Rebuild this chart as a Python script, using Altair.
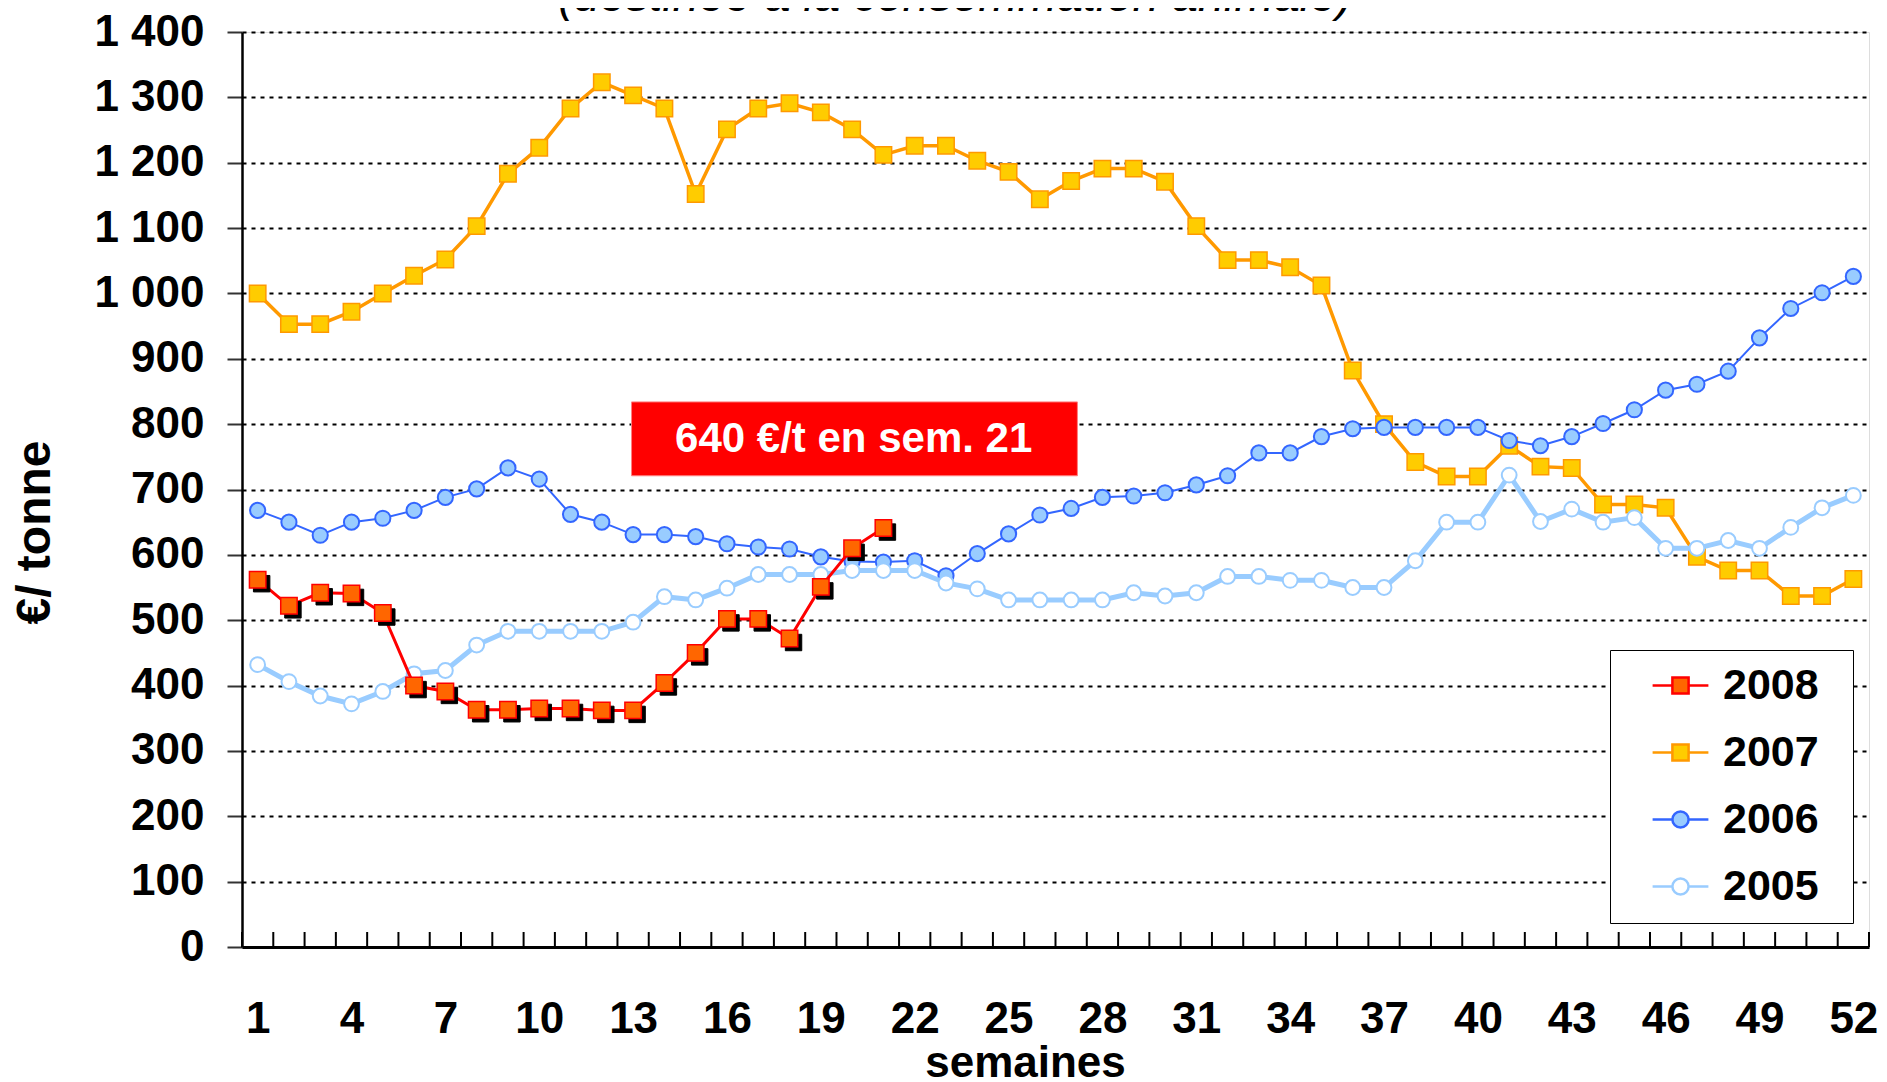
import altair as alt
import pandas as pd

FONT = "Liberation Sans"

# ---------------- data ----------------
weeks = list(range(1, 53))
years = ["2008", "2007", "2006", "2005"]

price_2008 = [562, 522, 542, 541, 511, 400, 391, 363, 363, 365, 365, 362, 362, 404,
              450, 502, 502, 472, 551, 610, 641]
price_2007 = [1000, 953, 953, 972, 1000, 1027, 1052, 1103, 1183, 1223,
              1283, 1323, 1303, 1283, 1152, 1251, 1283, 1291, 1277, 1251,
              1212, 1226, 1226, 1203, 1186, 1144, 1172, 1191, 1191, 1171,
              1103, 1051, 1051, 1040, 1012, 882, 800, 742, 720, 720,
              767, 735, 733, 677, 677, 672, 597, 576, 576, 537,
              537, 563]
price_2006 = [668, 650, 630, 650, 656, 668, 688, 701, 733, 716,
              662, 650, 631, 631, 628, 617, 612, 609, 597, 590,
              589, 591, 568, 602, 632, 661, 671, 688, 690, 695,
              707, 721, 756, 756, 781, 793, 795, 795, 795, 795,
              775, 767, 781, 801, 822, 852, 861, 881, 932, 977,
              1001, 1026]
price_2005 = [432, 406, 384, 372, 391, 418, 423, 462, 483, 483,
              483, 483, 497, 536, 531, 549, 570, 570, 570, 576,
              576, 576, 557, 548, 531, 531, 531, 531, 542, 537,
              542, 567, 567, 561, 561, 550, 550, 591, 650, 650,
              722, 651, 670, 650, 657, 610, 610, 622, 610, 642,
              672, 691]

series_values = {"2008": price_2008, "2007": price_2007, "2006": price_2006, "2005": price_2005}

x_tick_labels = list(range(1, 53, 3))
y_ticks = list(range(0, 1401, 100))
week_bounds = [w - 0.5 for w in weeks] + [weeks[-1] + 0.5]

annotation_label = ["640 €/t en sem. 21"]
annotation_week = [20.05]
annotation_price = [778]
annotation_box_week = [12.95]
annotation_box_week2 = [27.2]
annotation_box_price = [721]
annotation_box_price2 = [834]

title_text = ["(destinée à la consommation animale)"]

# ---------------- styles ----------------
line_colors = {"2008": "#FF0000", "2007": "#FF9900", "2006": "#3366FF", "2005": "#99CCFF"}
marker_fills = {"2008": "#FF6600", "2007": "#FFCC00", "2006": "#99CCFF", "2005": "#FFFFFF"}
marker_shapes = {"2008": "square", "2007": "square", "2006": "circle", "2005": "circle"}
line_widths = {"2008": 3, "2007": 3.5, "2006": 2, "2005": 5}
marker_sizes = {"2008": 270, "2007": 270, "2006": 230, "2005": 220}
marker_stroke = {"2008": 1.5, "2007": 1.5, "2006": 2, "2005": 2}

sq_path = "M-3.1,0H-0.9M0.9,0H3.1M-0.9,-0.9H0.9V0.9H-0.9Z"
ci_path = "M-3.1,0H-0.9M0.9,0H3.1M0.9,0A0.9,0.9,0,1,1,-0.9,0A0.9,0.9,0,1,1,0.9,0Z"
legend_paths = [sq_path, sq_path, ci_path, ci_path]

# ---------------- tables ----------------
rows = []
for y in years:
    for w, v in zip(weeks, series_values[y]):
        rows.append({"year": y, "week": w, "price": v})
df = pd.DataFrame(rows)

ticks_df = pd.DataFrame({"week": week_bounds})
ann_df = pd.DataFrame({
    "week": annotation_week, "price": annotation_price, "label": annotation_label,
    "wk1": annotation_box_week, "wk2": annotation_box_week2,
    "p1": annotation_box_price, "p2": annotation_box_price2,
})
title_df = pd.DataFrame({"label": title_text})

W, H = 1627, 915

x_scale = alt.Scale(domain=[0.5, 52.5], nice=False, zero=False)
y_scale = alt.Scale(domain=[0, 1400], nice=False, zero=True)

x_axis = alt.Axis(
    values=x_tick_labels, title="semaines", format="d",
    ticks=False, tickSize=0, labelPadding=50,
    labelFont=FONT, labelFontSize=44, labelFontWeight="bold", labelColor="black",
    labelFlush=False, labelOverlap=False,
    domainColor="black", domainWidth=3, grid=False,
    titleFont=FONT, titleFontSize=44, titleFontWeight="bold", titleColor="black",
    titleX=783, titleY=129, titleBaseline="alphabetic", titleAlign="center",
)
y_axis = alt.Axis(
    values=y_ticks, title="€/ tonne",
    labelExpr="replace(format(datum.value, ','), ',', ' ')",
    tickSize=15, tickWidth=2, tickColor="#333333", labelPadding=23,
    labelFont=FONT, labelFontSize=44, labelFontWeight="bold", labelColor="black",
    labelFlush=False, labelOverlap=False,
    domainColor="black", domainWidth=2.5,
    grid=True, gridColor="black", gridDash=[4, 5], gridWidth=2,
    titleFont=FONT, titleFontSize=48, titleFontWeight="bold", titleColor="black",
    titleX=-207, titleY=500, titleAngle=270, titleBaseline="middle", titleAlign="center",
)


def X(field):
    return alt.X(field, type="quantitative", scale=x_scale, axis=x_axis)


def Y(field):
    return alt.Y(field, type="quantitative", scale=y_scale, axis=y_axis)


layers = []

# inner ticks on the week axis
layers.append(
    alt.Chart(ticks_df).mark_rule(color="black", strokeWidth=2).encode(
        x=X("week"), y=alt.value(H), y2=alt.value(H - 15)
    )
)

for yr in ["2007", "2006", "2005", "2008"]:
    base = alt.Chart(df).transform_filter(alt.datum.year == yr)
    layers.append(
        base.mark_line(color=line_colors[yr], strokeWidth=line_widths[yr]).encode(
            x=X("week"), y=Y("price")
        )
    )
    if yr == "2008":
        layers.append(
            base.mark_point(shape="square", filled=True, fill="black", stroke="black",
                            strokeWidth=1, size=marker_sizes[yr], opacity=1,
                            xOffset=4, yOffset=4).encode(x=X("week"), y=Y("price"))
        )
    layers.append(
        base.mark_point(shape=marker_shapes[yr], filled=True, fill=marker_fills[yr],
                        stroke=line_colors[yr], strokeWidth=marker_stroke[yr],
                        size=marker_sizes[yr], opacity=1).encode(x=X("week"), y=Y("price"))
    )

# annotation box
layers.append(
    alt.Chart(ann_df).mark_rect(color="#FF0000", stroke="#FF8080", strokeWidth=1).encode(
        x=X("wk1"), x2="wk2", y=Y("p1"), y2="p2"
    )
)
layers.append(
    alt.Chart(ann_df).mark_text(color="white", font=FONT, fontSize=42, fontWeight="bold",
                                align="center", baseline="middle").encode(
        x=X("week"), y=Y("price"), text="label:N"
    )
)

# chart title, partly cut by the top edge as in the original
layers.append(
    alt.Chart(title_df).mark_text(color="black", font=FONT, fontSize=47, fontStyle="italic",
                                  align="center", baseline="alphabetic").encode(
        x=alt.value(713), y=alt.value(-21), text="label:N"
    )
)

# legend (built by the library from the year scales)
leg = alt.Legend(
    orient="none", legendX=1368, legendY=618, title="\u2007", titleOrient="right",
    titleFontSize=43, titlePadding=20, padding=14,
    strokeColor="black", fillColor="white",
    symbolSize=324, symbolStrokeWidth=2.5, symbolOffset=35, labelOffset=21,
    labelFont=FONT, labelFontSize=43, labelFontWeight="bold", labelColor="black",
    rowPadding=23,
)
layers.append(
    alt.Chart(df).transform_filter("false").mark_point(filled=True, opacity=1, strokeWidth=2.5).encode(
        x=X("week"), y=Y("price"),
        fill=alt.Fill("year:N", scale=alt.Scale(domain=years, range=[marker_fills[y] for y in years]), legend=leg),
        stroke=alt.Stroke("year:N", scale=alt.Scale(domain=years, range=[line_colors[y] for y in years]), legend=leg),
        shape=alt.Shape("year:N", scale=alt.Scale(domain=years, range=legend_paths), legend=leg),
    )
)

chart = alt.layer(*layers).properties(
    width=W, height=H,
    autosize=alt.AutoSizeParams(type="none"),
    padding={"left": 234, "top": 24, "right": 10, "bottom": 141},
).configure_view(
    stroke="#777777", strokeWidth=2.5
).configure_legend(
    strokeWidth=2
).configure(background="white")

chart.save("out.html", embed_options={"renderer": "svg", "actions": False})
